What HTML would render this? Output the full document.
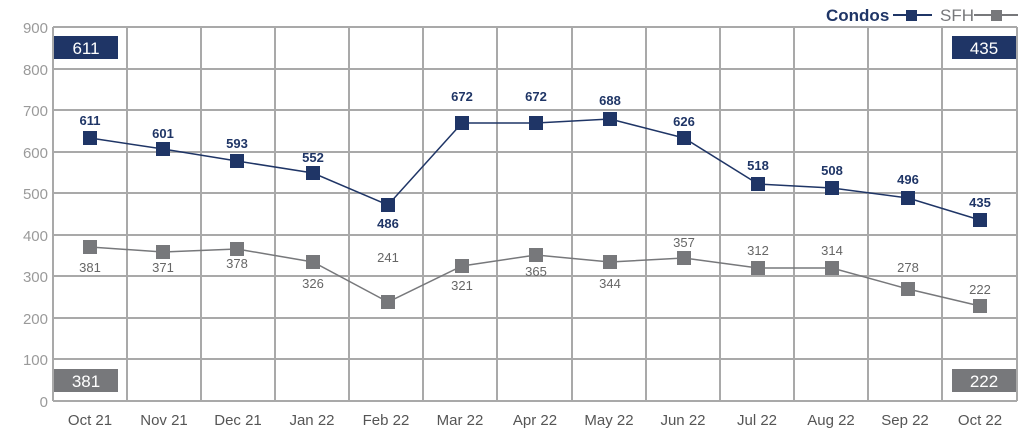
<!DOCTYPE html>
<html><head><style>body{margin:0;background:#fff}svg{display:block}</style></head><body>
<svg width="1024" height="431" xmlns="http://www.w3.org/2000/svg" font-family="Liberation Sans, sans-serif">
<g stroke="#a9a9a9" stroke-width="2" fill="none">
<line x1="53" y1="27" x2="1017" y2="27"/><line x1="53" y1="69" x2="1017" y2="69"/><line x1="53" y1="110" x2="1017" y2="110"/><line x1="53" y1="152" x2="1017" y2="152"/><line x1="53" y1="193" x2="1017" y2="193"/><line x1="53" y1="235" x2="1017" y2="235"/><line x1="53" y1="276" x2="1017" y2="276"/><line x1="53" y1="318" x2="1017" y2="318"/><line x1="53" y1="359" x2="1017" y2="359"/><line x1="53" y1="401" x2="1017" y2="401"/>
<line x1="53" y1="27" x2="53" y2="401"/><line x1="127" y1="27" x2="127" y2="401"/><line x1="201" y1="27" x2="201" y2="401"/><line x1="275" y1="27" x2="275" y2="401"/><line x1="349" y1="27" x2="349" y2="401"/><line x1="423" y1="27" x2="423" y2="401"/><line x1="497" y1="27" x2="497" y2="401"/><line x1="572" y1="27" x2="572" y2="401"/><line x1="646" y1="27" x2="646" y2="401"/><line x1="720" y1="27" x2="720" y2="401"/><line x1="794" y1="27" x2="794" y2="401"/><line x1="868" y1="27" x2="868" y2="401"/><line x1="942" y1="27" x2="942" y2="401"/><line x1="1017" y1="27" x2="1017" y2="401"/>
</g>
<g fill="#9a9a9a" font-size="15" text-anchor="end">
<text x="48" y="33">900</text><text x="48" y="75">800</text><text x="48" y="116">700</text><text x="48" y="158">600</text><text x="48" y="199">500</text><text x="48" y="241">400</text><text x="48" y="282">300</text><text x="48" y="324">200</text><text x="48" y="365">100</text><text x="48" y="407">0</text>
</g>
<g fill="#555" font-size="15" text-anchor="middle">
<text x="90" y="425">Oct 21</text><text x="164" y="425">Nov 21</text><text x="238" y="425">Dec 21</text><text x="312" y="425">Jan 22</text><text x="386" y="425">Feb 22</text><text x="460" y="425">Mar 22</text><text x="535" y="425">Apr 22</text><text x="609" y="425">May 22</text><text x="683" y="425">Jun 22</text><text x="757" y="425">Jul 22</text><text x="831" y="425">Aug 22</text><text x="905" y="425">Sep 22</text><text x="980" y="425">Oct 22</text>
</g>
<rect x="54" y="36" width="64" height="23" fill="#1f3566"/><text x="86" y="54" fill="#fff" font-size="17" text-anchor="middle">611</text>
<rect x="952" y="36" width="64" height="23" fill="#1f3566"/><text x="984" y="54" fill="#fff" font-size="17" text-anchor="middle">435</text>
<rect x="54" y="369" width="64" height="23" fill="#77787b"/><text x="86" y="387" fill="#fff" font-size="17" text-anchor="middle">381</text>
<rect x="952" y="369" width="64" height="23" fill="#77787b"/><text x="984" y="387" fill="#fff" font-size="17" text-anchor="middle">222</text>
<polyline fill="none" stroke="#77787b" stroke-width="1.5" points="90,247 163,252 237,249 313,262 388,302 462,266 536,255 610,262 684,258 758,268 832,268 908,289 980,306"/>
<g fill="#77787b">
<rect x="83" y="240" width="14" height="14"/><rect x="156" y="245" width="14" height="14"/><rect x="230" y="242" width="14" height="14"/><rect x="306" y="255" width="14" height="14"/><rect x="381" y="295" width="14" height="14"/><rect x="455" y="259" width="14" height="14"/><rect x="529" y="248" width="14" height="14"/><rect x="603" y="255" width="14" height="14"/><rect x="677" y="251" width="14" height="14"/><rect x="751" y="261" width="14" height="14"/><rect x="825" y="261" width="14" height="14"/><rect x="901" y="282" width="14" height="14"/><rect x="973" y="299" width="14" height="14"/>
</g>
<g fill="#666" font-size="13" text-anchor="middle">
<text x="90" y="272">381</text><text x="163" y="272">371</text><text x="237" y="268">378</text><text x="313" y="288">326</text><text x="388" y="262">241</text><text x="462" y="290">321</text><text x="536" y="276">365</text><text x="610" y="288">344</text><text x="684" y="247">357</text><text x="758" y="255">312</text><text x="832" y="255">314</text><text x="908" y="272">278</text><text x="980" y="294">222</text>
</g>
<polyline fill="none" stroke="#1f3566" stroke-width="1.5" points="90,138 163,149 237,161 313,173 388,205 462,123 536,123 610,119 684,138 758,184 832,188 908,198 980,220"/>
<g fill="#1f3566">
<rect x="83" y="131" width="14" height="14"/><rect x="156" y="142" width="14" height="14"/><rect x="230" y="154" width="14" height="14"/><rect x="306" y="166" width="14" height="14"/><rect x="381" y="198" width="14" height="14"/><rect x="455" y="116" width="14" height="14"/><rect x="529" y="116" width="14" height="14"/><rect x="603" y="112" width="14" height="14"/><rect x="677" y="131" width="14" height="14"/><rect x="751" y="177" width="14" height="14"/><rect x="825" y="181" width="14" height="14"/><rect x="901" y="191" width="14" height="14"/><rect x="973" y="213" width="14" height="14"/>
</g>
<g fill="#1f3566" font-size="13" font-weight="bold" text-anchor="middle">
<text x="90" y="125">611</text><text x="163" y="138">601</text><text x="237" y="148">593</text><text x="313" y="162">552</text><text x="388" y="228">486</text><text x="462" y="101">672</text><text x="536" y="101">672</text><text x="610" y="105">688</text><text x="684" y="126">626</text><text x="758" y="170">518</text><text x="832" y="175">508</text><text x="908" y="184">496</text><text x="980" y="207">435</text>
</g>
<text x="826" y="21" fill="#1f3566" font-size="17" font-weight="bold">Condos</text>
<line x1="893" y1="15" x2="932" y2="15" stroke="#1f3566" stroke-width="2"/><rect x="906" y="10" width="11" height="11" fill="#1f3566"/>
<text x="940" y="21" fill="#77787b" font-size="17">SFH</text>
<line x1="974" y1="15" x2="1018" y2="15" stroke="#77787b" stroke-width="2"/><rect x="991" y="10" width="11" height="11" fill="#77787b"/>
</svg>
</body></html>
